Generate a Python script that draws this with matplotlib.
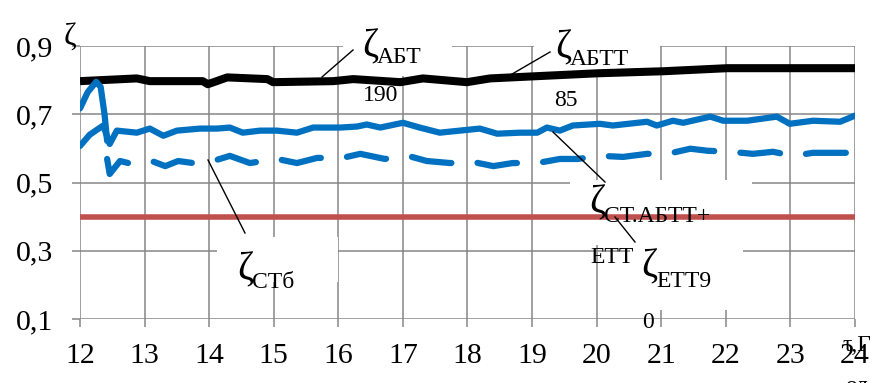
import matplotlib
matplotlib.use("Agg")
import matplotlib.pyplot as plt
from matplotlib.patches import Rectangle
from matplotlib.lines import Line2D

W, H = 879, 383

# axis ticks
years = list(range(12, 25))
y_ticks = [0.1, 0.3, 0.5, 0.7, 0.9]
y_tick_labels = ["0,1", "0,3", "0,5", "0,7", "0,9"]

# ζАБТТ
abtt_x = [12.00, 12.88, 13.08, 13.90, 13.98, 14.28, 14.90, 14.99, 15.92, 16.23,
          16.96, 17.31, 17.99, 18.35, 19.01, 20.01, 21.03, 22.02, 22.84, 24.00]
abtt_y = [0.797, 0.805, 0.797, 0.797, 0.788, 0.808, 0.803, 0.794, 0.797, 0.803,
          0.794, 0.805, 0.794, 0.805, 0.811, 0.820, 0.826, 0.835, 0.835, 0.835]

# ζСТ.АБТТ+ЕТТ
st_abtt_x = [12.00, 12.15, 12.36, 12.46, 12.57, 12.88, 13.08, 13.29, 13.50, 13.86,
             14.12, 14.32, 14.52, 14.79, 15.05, 15.36, 15.61, 16.03, 16.29, 16.44,
             16.65, 17.00, 17.26, 17.57, 17.88, 18.19, 18.46, 18.81, 19.08, 19.23,
             19.43, 19.63, 20.05, 20.25, 20.78, 20.93, 21.18, 21.34, 21.76, 21.96,
             22.33, 22.79, 22.99, 23.35, 23.77, 24.00]
st_abtt_y = [0.607, 0.640, 0.667, 0.613, 0.652, 0.646, 0.658, 0.637, 0.652, 0.658,
             0.658, 0.661, 0.646, 0.652, 0.652, 0.646, 0.661, 0.661, 0.664, 0.670,
             0.661, 0.675, 0.661, 0.646, 0.652, 0.658, 0.643, 0.646, 0.646, 0.661,
             0.652, 0.667, 0.672, 0.667, 0.678, 0.667, 0.681, 0.675, 0.693, 0.681,
             0.681, 0.693, 0.672, 0.681, 0.678, 0.696]

# ζСТб (first six points form the initial solid stroke)
stb_x = [12.00, 12.12, 12.25, 12.32, 12.38, 12.42,
         12.42, 12.46, 12.62, 12.81, 13.11, 13.32, 13.52, 13.75, 14.06, 14.32,
         14.63, 15.05, 15.36, 15.67, 16.06, 16.34, 16.72, 17.08, 17.37, 17.73,
         18.09, 18.40, 18.70, 19.08, 19.43, 19.70, 20.08, 20.41, 20.78, 21.10,
         21.45, 21.72, 22.07, 22.42, 22.73, 23.04, 23.35, 23.72, 24.00]
stb_y = [0.717, 0.765, 0.795, 0.780, 0.700, 0.622,
         0.569, 0.525, 0.563, 0.554, 0.563, 0.548, 0.563, 0.557, 0.563, 0.578,
         0.557, 0.569, 0.557, 0.572, 0.572, 0.584, 0.569, 0.578, 0.563, 0.557,
         0.560, 0.548, 0.557, 0.557, 0.569, 0.569, 0.578, 0.575, 0.584, 0.584,
         0.599, 0.593, 0.590, 0.584, 0.590, 0.578, 0.587, 0.587, 0.587]
STB_HEAD = 6

# ζЕТТ90
ett_x = [12, 24]
ett_y = [0.40, 0.40]

BLUE = "#0070C0"
RED = "#C0504D"
GRID = "#868686"
SERIF = "Liberation Serif"

fig = plt.figure(figsize=(W / 100, H / 100), dpi=100)
ax = fig.add_axes([80 / W, 1 - 319 / H, (855 - 80) / W, (319 - 46) / H])
ax.set_xlim(12, 24)
ax.set_ylim(0.1, 0.9)
ax.set_axisbelow(True)
for s in ax.spines.values():
    s.set_visible(False)
ax.set_xticks(years)
ax.set_xticklabels([str(v) for v in years], family=SERIF, fontsize=21.5)
ax.set_yticks(y_ticks)
ax.set_yticklabels(y_tick_labels, family=SERIF, fontsize=21.5)
ax.tick_params(axis="both", direction="out", length=6, width=1.1, color=GRID)
ax.tick_params(axis="x", pad=11)
ax.tick_params(axis="y", pad=13)
ax.grid(True, color=GRID, linewidth=1.1)


def fpx(xp, yp):
    return xp / W, 1 - yp / H


def white_box(x0, y0, x1, y1):
    bx, by = fpx(x0, y1)
    r = Rectangle((bx, by), (x1 - x0) / W, (y1 - y0) / H, transform=fig.transFigure,
                  facecolor="white", edgecolor="none", zorder=1.5, clip_on=False)
    ax.add_artist(r)


# white backgrounds of the callout boxes
white_box(343, 28, 452, 76)
white_box(534, 28, 660, 76)
white_box(570, 180, 752, 245)
white_box(630, 245, 743, 310)
white_box(217, 237, 338, 282)

ax.plot(abtt_x, abtt_y, color="black", lw=5.8, solid_capstyle="butt", zorder=2)
ax.plot(st_abtt_x, st_abtt_y, color=BLUE, lw=4.5, solid_joinstyle="round",
        solid_capstyle="round", zorder=3)
ax.plot(stb_x[:STB_HEAD], stb_y[:STB_HEAD], color=BLUE, lw=4.5,
        solid_joinstyle="round", solid_capstyle="round", zorder=3)
ax.plot(stb_x[STB_HEAD:], stb_y[STB_HEAD:], color=BLUE, lw=4.5,
        linestyle=(0, (6.4, 4.2)), dash_capstyle="round", dash_joinstyle="round",
        zorder=3)
ax.plot(ett_x, ett_y, color=RED, lw=4.0, solid_capstyle="butt", zorder=3)

# leader lines
for (x0, y0, x1, y1) in [(322, 77, 353, 50), (507, 77, 550, 52),
                         (553, 132, 605, 182), (615, 217, 635, 242),
                         (208, 160, 245, 233)]:
    a, b = fpx(x0, y0)
    c, d = fpx(x1, y1)
    fig.add_artist(Line2D([a, c], [b, d], color="black", lw=1.0, zorder=5))


def ftext(xp, yp, s, size, ha="left", va="baseline"):
    fx, fy = fpx(xp, yp)
    fig.text(fx, fy, s, fontsize=size, family=SERIF, ha=ha, va=va, zorder=6)


ZS = 28
SS = 17
# ζАБТ / 190
ftext(370, 47, "ζ", ZS, ha="center", va="center")
ftext(377, 63, "АБТ", SS)
ftext(381, 96, "190", SS, ha="center", va="center")
# ζАБТТ / 85
ftext(563, 48, "ζ", ZS, ha="center", va="center")
ftext(570, 65, "АБТТ", SS)
ftext(566, 101, "85", SS, ha="center", va="center")
# ζСТ.АБТТ+ЕТТ
ftext(597, 203, "ζ", ZS, ha="center", va="center")
ftext(604, 222, "СТ.АБТТ+", SS)
ftext(590, 263, "ЕТТ", SS)
# ζЕТТ90
ftext(649, 267, "ζ", ZS, ha="center", va="center")
ftext(656, 287, "ЕТТ9", SS)
ftext(642, 328, "0", SS)
# ζСТб
ftext(245, 270, "ζ", ZS, ha="center", va="center")
ftext(252, 288, "СТб", SS)

# axis titles
ftext(70, 37, "ζ", 22, ha="center", va="center")
ftext(843, 351, "τ,Г", SS)
ftext(845, 392, "од", SS)

fig.savefig("out.png", dpi=100)
